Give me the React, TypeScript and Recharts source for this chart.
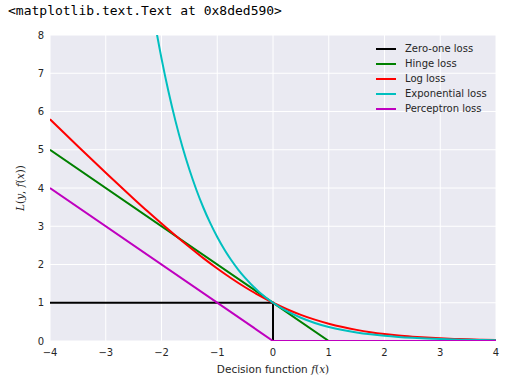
import React from "react";
import { LineChart, Line, XAxis, YAxis, CartesianGrid } from "recharts";

const xTicks = [-4, -3, -2, -1, 0, 1, 2, 3, 4];
const yTicks = [0, 1, 2, 3, 4, 5, 6, 7, 8];

const zeroOneX = [-4, 0, 0, 4];
const zeroOneY = [1, 1, 0, 0];

const hingeX = [-4, 1, 4];
const hingeY = [5, 0, 0];

const perceptronX = [-4, 0, 4];
const perceptronY = [4, 0, 0];

const logX = [-4, -3.75, -3.5, -3.25, -3, -2.75, -2.5, -2.25, -2, -1.75, -1.5, -1.25, -1, -0.75, -0.5, -0.25, 0, 0.25, 0.5, 0.75, 1, 1.25, 1.5, 1.75, 2, 2.25, 2.5, 2.75, 3, 3.25, 3.5, 3.75, 4];
const logY = [5.797, 5.444, 5.093, 4.744, 4.398, 4.057, 3.721, 3.39, 3.069, 2.756, 2.455, 2.167, 1.895, 1.64, 1.405, 1.192, 1.0, 0.831, 0.684, 0.558, 0.452, 0.364, 0.291, 0.231, 0.183, 0.144, 0.114, 0.089, 0.07, 0.055, 0.043, 0.034, 0.026];

const expX = [-2.5, -2.25, -2.125, -2, -1.875, -1.75, -1.625, -1.5, -1.375, -1.25, -1.125, -1, -0.875, -0.75, -0.625, -0.5, -0.25, 0, 0.25, 0.5, 0.75, 1, 1.25, 1.5, 1.75, 2, 2.25, 2.5, 2.75, 3, 3.25, 3.5, 3.75, 4];
const expY = [12.18, 9.488, 8.373, 7.389, 6.521, 5.755, 5.078, 4.482, 3.955, 3.49, 3.08, 2.718, 2.399, 2.117, 1.868, 1.649, 1.284, 1.0, 0.779, 0.607, 0.472, 0.368, 0.287, 0.223, 0.174, 0.135, 0.105, 0.082, 0.064, 0.05, 0.039, 0.03, 0.024, 0.018];

const seriesNames = ["Zero-one loss", "Hinge loss", "Log loss", "Exponential loss", "Perceptron loss"];
const seriesColors = ["#000000", "#008000", "#ff0000", "#00bfbf", "#bf00bf"];

const toPts = (xs: number[], ys: number[]) => xs.map((x, i) => ({ x, y: ys[i] }));

const zeroOneData = toPts(zeroOneX, zeroOneY);
const hingeData = toPts(hingeX, hingeY);
const logData = toPts(logX, logY);
const expData = toPts(expX, expY);
const perceptronData = toPts(perceptronX, perceptronY);

const FONT = "'DejaVu Sans', sans-serif";
const TEXT = "#262626";

const fmt = (v: number) => (v < 0 ? "\u2212" + Math.abs(v) : String(v));

export default function App() {
  return (
    <div style={{ position: "absolute", left: 0, top: 0, width: 527, height: 380, background: "#fff" }}>
      <div
        style={{
          position: "absolute",
          left: 8,
          top: 3,
          fontFamily: "'DejaVu Sans Mono', monospace",
          fontSize: 13,
          color: "#000",
          whiteSpace: "pre",
        }}
      >
        {"<matplotlib.text.Text at 0x8ded590>"}
      </div>
      <div style={{ position: "absolute", left: 0, top: 0 }}>
        <LineChart width={527} height={380} margin={{ top: 35, right: 31, bottom: 9, left: 0 }}>
          <CartesianGrid fill="#eaeaf2" stroke="#ffffff" strokeWidth={1} horizontalValues={yTicks} verticalValues={xTicks} />
          <XAxis
            dataKey="x"
            type="number"
            domain={[-4, 4]}
            ticks={xTicks}
            tickFormatter={fmt}
            axisLine={false}
            tickLine={false}
            height={30}
            tick={{ fontFamily: FONT, fontSize: 10, fill: TEXT }}
            tickMargin={2}
            allowDataOverflow
          />
          <YAxis
            type="number"
            domain={[0, 8]}
            ticks={yTicks}
            axisLine={false}
            tickLine={false}
            width={50}
            tick={{ fontFamily: FONT, fontSize: 10, fill: TEXT }}
            tickMargin={0}
            allowDataOverflow
          />
          <Line data={zeroOneData} dataKey="y" type="linear" stroke={seriesColors[0]} strokeWidth={2} dot={false} isAnimationActive={false} />
          <Line data={hingeData} dataKey="y" type="linear" stroke={seriesColors[1]} strokeWidth={2} dot={false} isAnimationActive={false} />
          <Line data={logData} dataKey="y" type="monotone" stroke={seriesColors[2]} strokeWidth={2} dot={false} isAnimationActive={false} />
          <Line data={expData} dataKey="y" type="monotone" stroke={seriesColors[3]} strokeWidth={2} dot={false} isAnimationActive={false} />
          <Line data={perceptronData} dataKey="y" type="linear" stroke={seriesColors[4]} strokeWidth={2} dot={false} isAnimationActive={false} />
        </LineChart>
      </div>
      <div
        style={{
          position: "absolute",
          left: 376,
          top: 41,
          fontFamily: FONT,
          fontSize: 10,
          color: TEXT,
          whiteSpace: "pre",
        }}
      >
        {seriesNames.map((n, i) => (
          <div key={n} style={{ display: "flex", alignItems: "center", height: 15 }}>
            <div style={{ width: 20, height: 2, background: seriesColors[i], marginRight: 9 }} />
            <span>{n}</span>
          </div>
        ))}
      </div>
      <div
        style={{
          position: "absolute",
          left: 0,
          width: 546,
          top: 363,
          textAlign: "center",
          fontFamily: FONT,
          fontSize: 10.5,
          color: TEXT,
          whiteSpace: "pre",
        }}
      >
        {"Decision function "}
        <span style={{ fontFamily: "'DejaVu Serif', serif", fontStyle: "italic" }}>f</span>
        <span style={{ fontFamily: "'DejaVu Serif', serif" }}>(</span>
        <span style={{ fontFamily: "'DejaVu Serif', serif", fontStyle: "italic" }}>x</span>
        <span style={{ fontFamily: "'DejaVu Serif', serif" }}>)</span>
      </div>
      <div
        style={{
          position: "absolute",
          left: 20,
          top: 188,
          transform: "translate(-50%, -50%) rotate(-90deg)",
          fontFamily: "'DejaVu Serif', serif",
          fontSize: 10.5,
          color: TEXT,
          whiteSpace: "pre",
        }}
      >
        <i>L</i>(<i>y</i>, <i>f</i>(<i>x</i>))
      </div>
    </div>
  );
}
